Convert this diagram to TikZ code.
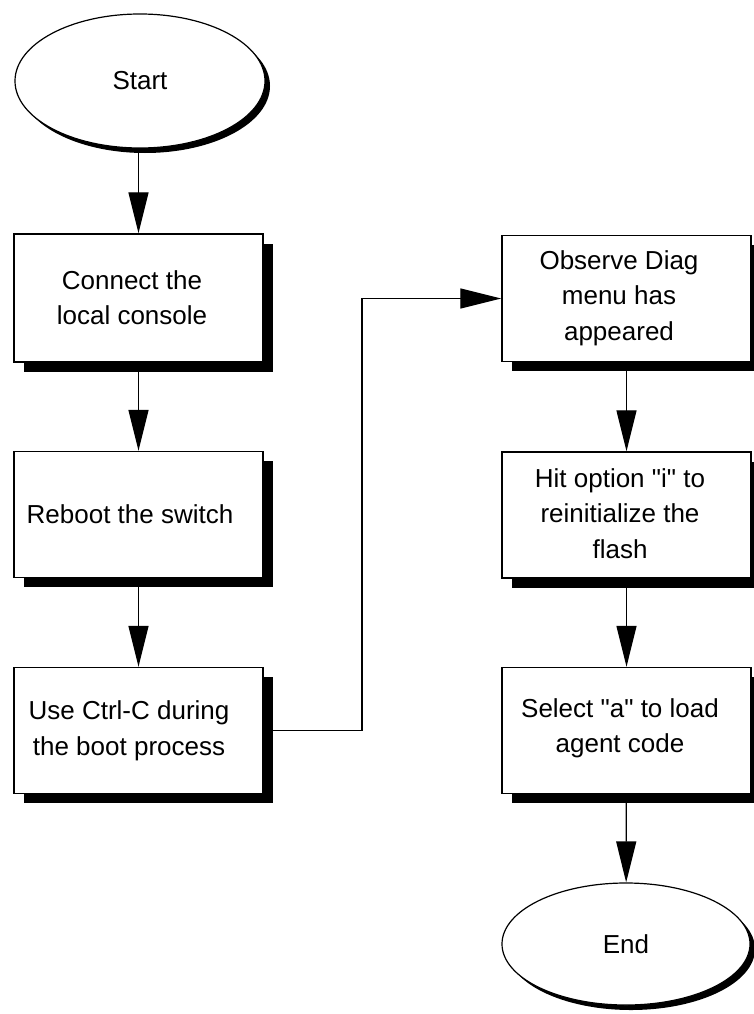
\documentclass[tikz,border=0pt]{standalone}
\usepackage{fontspec}
\setmainfont{Liberation Sans}[Ligatures=TeXOff]
\usetikzlibrary{shapes.geometric,shadows,arrows.meta,calc}
\begin{document}
\begin{tikzpicture}[x=1pt,y=-1pt,
  box/.style={draw,line width=1.4pt,fill=white,rectangle,minimum width=249pt,minimum height=126pt,inner sep=0pt,
     drop shadow={shadow xshift=9.5pt,shadow yshift=-9.5pt,fill=black,opacity=1}},
  oval/.style={draw,line width=1.2pt,fill=white,ellipse,inner sep=0pt,
     drop shadow={shadow xshift=5pt,shadow yshift=-5pt,fill=black,opacity=1}},
  txt/.style={align=center,font=\fontsize{26}{35.5}\selectfont,inner sep=0pt},
  arr/.style={line width=1.3pt,-{Triangle[length=41pt,width=20pt]}}
]
\useasboundingbox (0,0) rectangle (753,1014);

% terminals
\node[oval,txt,minimum width=250pt,minimum height=134pt] (start) at (140,81) {Start};
\node[oval,txt,minimum width=248pt,minimum height=122pt] (end) at (626,944) {End};

% left column
\node[box,minimum height=128pt] (b1) at (138.5,298) {};
\node[box] (b2) at (138.5,514.5) {};
\node[box] (b3) at (138.5,730.5) {};
\node[txt] (t1) at (132,297.5) {Connect the\\local console};
\node[txt] (t2) at (130,514) {Reboot the switch};
\node[txt] (t3) at (129,731) {Use Ctrl-C during\\the boot process};

% right column
\node[box] (r1) at (626.5,298.5) {};
\node[box] (r2) at (626.5,515) {};
\node[box] (r3) at (626.5,730.5) {};
\node[txt] (u1) at (619,298) {Observe Diag\\menu has\\appeared};
\node[txt] (u2) at (620,513.5) {Hit option "i" to\\reinitialize the\\flash};
\node[txt] (u3) at (620,728.5) {Select "a" to load\\agent code};

% connectors
\coordinate (k) at (362,0);
\draw[arr] (start.south -| b1) -- (b1.north);
\draw[arr] (b1) -- (b2);
\draw[arr] (b2) -- (b3);
\draw[arr] (b3.east) -| (k |- r1.west) -- (r1.west);
\draw[arr] (r1) -- (r2);
\draw[arr] (r2) -- (r3);
\draw[arr] (r3) -- (end);
\end{tikzpicture}
\end{document}
